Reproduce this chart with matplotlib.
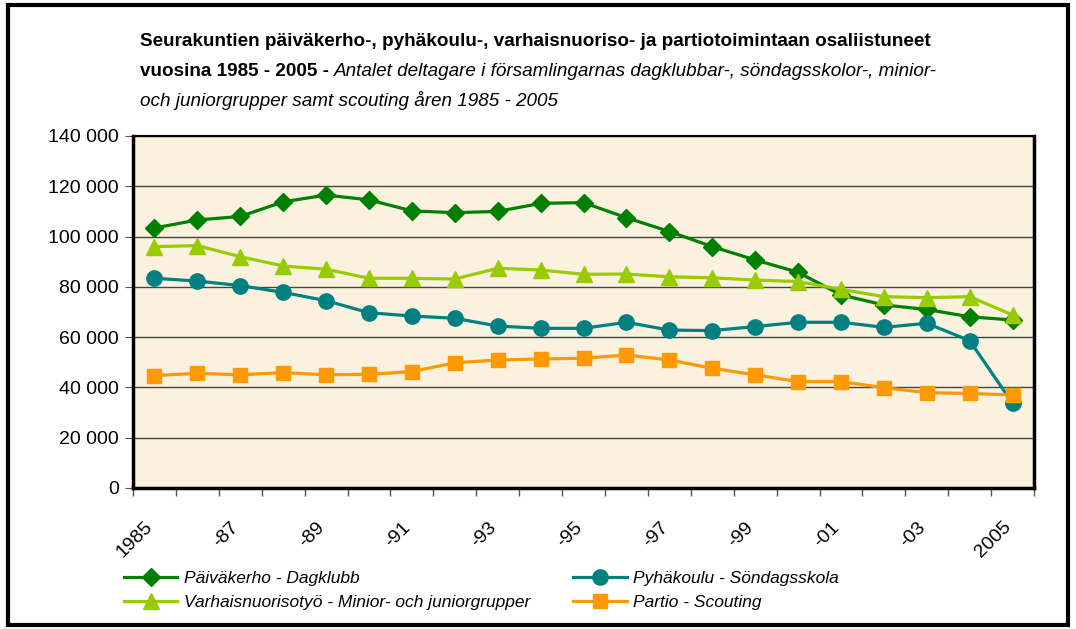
import matplotlib
matplotlib.use("Agg")
import matplotlib.pyplot as plt
import matplotlib.transforms as mtransforms
from matplotlib.ticker import FuncFormatter, FixedLocator
from matplotlib.patches import Rectangle
from matplotlib import font_manager

# pick a narrow sans if one is installed
names = {f.name for f in font_manager.fontManager.ttflist}
narrow = "Liberation Sans Narrow" if "Liberation Sans Narrow" in names else "Liberation Sans"
plt.rcParams["font.family"] = [narrow, "DejaVu Sans"]

# data
years = list(range(1985, 2006))
year_labels = ["1985", "-87", "-89", "-91", "-93", "-95", "-97", "-99", "-01", "-03", "2005"]
dagklubb = [103400, 106600, 108000, 113800, 116500, 114600, 110200, 109500, 110000, 113200,
            113500, 107500, 102000, 96000, 90700, 85800, 76800, 72800, 71000, 68100, 66800]
minior = [96000, 96400, 92000, 88300, 87000, 83400, 83400, 83100, 87400, 86700,
          85000, 85100, 84000, 83600, 82700, 82100, 79000, 76100, 75700, 76100, 68800]
sondagsskola = [83400, 82300, 80500, 77800, 74500, 69700, 68400, 67500, 64400, 63500,
                63500, 65900, 62800, 62600, 64200, 65900, 65900, 63900, 65500, 58600, 33700]
scouting = [44700, 45600, 45000, 45900, 45000, 45200, 46300, 49800, 50900, 51300,
            51600, 52900, 50900, 47600, 45000, 42300, 42300, 39900, 37900, 37600, 37000]

series = [
    ("Päiväkerho - Dagklubb", dagklubb, "#008000", "D", 9.5),
    ("Varhaisnuorisotyö - Minior- och juniorgrupper", minior, "#99CC00", "^", 11),
    ("Pyhäkoulu - Söndagsskola", sondagsskola, "#008080", "o", 11),
    ("Partio - Scouting", scouting, "#FF9900", "s", 10),
]

fig = plt.figure(figsize=(10.76, 6.29), dpi=100)
ax = fig.add_axes([0.1236, 0.2242, 0.8374, 0.5596])
ax.set_facecolor("#FBF1DF")

x = list(range(len(years)))
handles = []
for label, vals, col, mk, ms in series:
    h, = ax.plot(x, vals, color=col, lw=2.3, marker=mk, markersize=ms,
                 markeredgecolor=col, label=label, zorder=3)
    handles.append(h)

ax.set_xlim(-0.5, len(years) - 0.5)
ax.set_ylim(0, 140000)
ax.set_yticks(range(0, 140001, 20000))
ax.yaxis.set_major_formatter(FuncFormatter(lambda v, p: f"{int(v):,}".replace(",", " ")))
ax.grid(axis="y", color="#444444", lw=1, zorder=1)

# category boundaries get tick marks, every second category gets a label
ax.xaxis.set_minor_locator(FixedLocator([i - 0.5 for i in range(len(years) + 1)]))
ax.set_xticks(list(range(0, len(years), 2)))
ax.set_xticklabels(year_labels, rotation=45, ha="right", rotation_mode="anchor")
ax.tick_params(axis="x", which="major", length=0, labelsize=14, pad=22)
ax.tick_params(axis="x", which="minor", length=6, color="#555555", width=1)
ax.tick_params(axis="y", length=6, color="#555555", labelsize=14, pad=4)
shift = mtransforms.ScaledTranslation(-10 / 100, 0, fig.dpi_scale_trans)
for lab in ax.get_xticklabels():
    lab.set_transform(lab.get_transform() + shift)

for s in ax.spines.values():
    s.set_color("black")
    s.set_linewidth(1.5)
ax.spines["left"].set_linewidth(2.5)
ax.spines["bottom"].set_linewidth(2.5)
ax.spines["right"].set_linewidth(2.5)

# title: bold part then italic part
tx, fs = 140 / 1076, 13.6
t1 = fig.text(tx, 1 - 41 / 629, "Seurakuntien päiväkerho-, pyhäkoulu-, varhaisnuoriso- ja partiotoimintaan osaliistuneet",
              fontsize=fs, fontweight="bold", va="center")
t2 = fig.text(tx, 1 - 71 / 629, "vuosina 1985 - 2005 - ", fontsize=fs, fontweight="bold", va="center")
fig.canvas.draw()
bb = t2.get_window_extent(fig.canvas.get_renderer())
fig.text(bb.x1 / fig.bbox.width, 1 - 71 / 629,
         "Antalet deltagare i församlingarnas dagklubbar-, söndagsskolor-, minior-",
         fontsize=fs, style="italic", va="center")
fig.text(tx, 1 - 101 / 629, "och juniorgrupper samt scouting åren 1985 - 2005",
         fontsize=fs, style="italic", va="center")

# legend, rows: Dagklubb / Söndagsskola, Minior / Scouting
order = [handles[0], handles[1], handles[2], handles[3]]
fig.legend(order, [h.get_label() for h in order], ncol=2, frameon=False,
           loc="upper left", bbox_to_anchor=(108 / 1076, 1 - 555 / 629),
           prop={"size": 12.5, "style": "italic"}, handlelength=3.1,
           columnspacing=2.5, labelspacing=0.5, handletextpad=0.35)

fig.add_artist(Rectangle((8 / 1076, 4 / 629), 1060 / 1076, 620 / 629,
                         transform=fig.transFigure, fill=False, lw=3, ec="black"))

fig.savefig("out.png", dpi=100)
